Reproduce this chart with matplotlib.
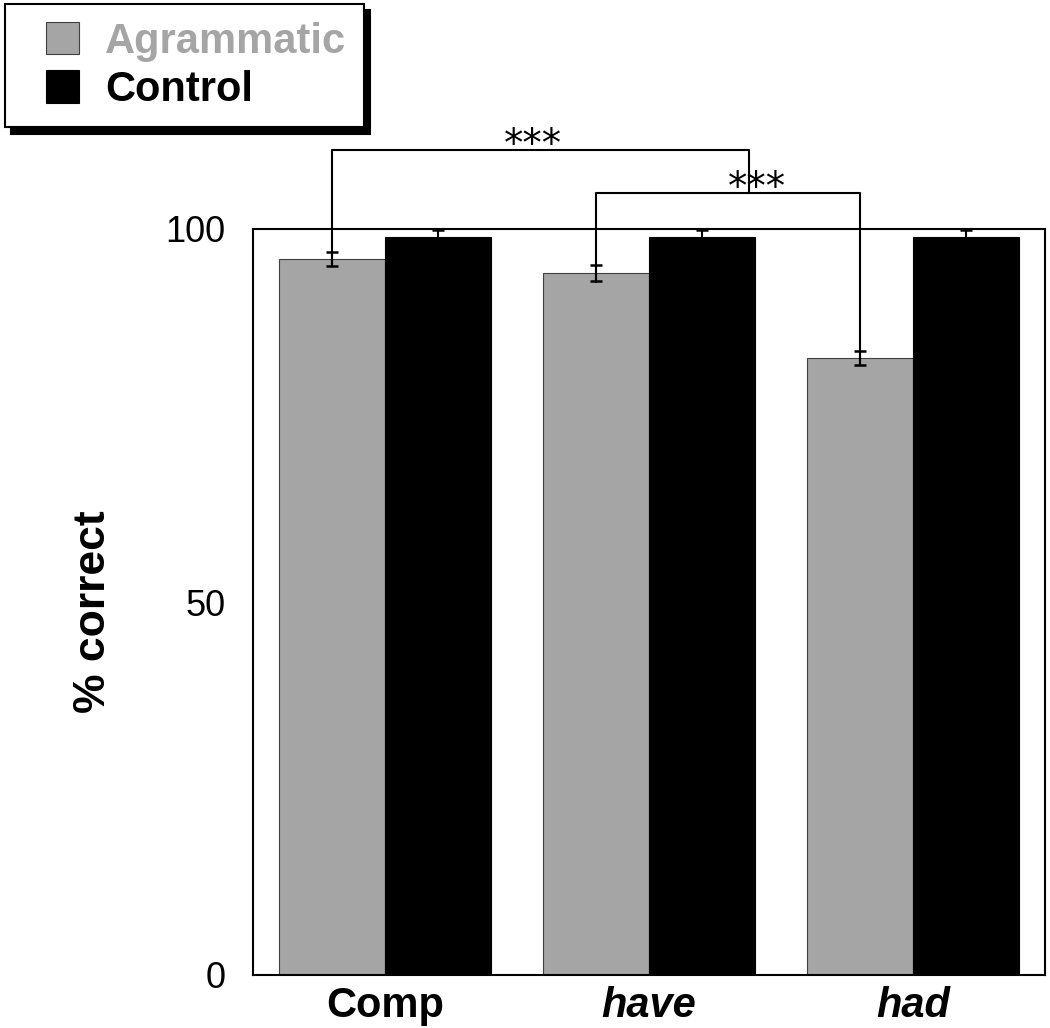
import numpy as np
import matplotlib
matplotlib.use("Agg")
import matplotlib.pyplot as plt
from matplotlib.patches import Rectangle
from matplotlib.container import BarContainer
from matplotlib.legend_handler import HandlerPatch, update_from_first_child

plt.rcParams['font.family'] = ['Liberation Sans', 'DejaVu Sans']

### Data ############################
categories = ['Comp', 'have', 'had']
agr = [96.0, 94.1, 82.7]
agr_err = [0.95, 1.1, 0.9]
ctrl = [98.9, 98.9, 98.9]
ctrl_err = [1.0, 1.0, 1.0]
# significance brackets: (x from, x to, bracket height, bottom left, bottom right)
brackets = [(-0.2, 1.38, 110.6, 95.1, 104.8),
            (0.8, 1.8, 104.8, 92.9, 81.8)]
star_pos = [(0.56, 111.3), (1.41, 105.5)]
#####################################

gray = '#a5a5a5'


def square_right(legend, orig_handle, xdescent, ydescent, width, height, fontsize):
    # small square pushed to the right end of the handle box
    return Rectangle((width - height - xdescent, -ydescent), height, height)


fig = plt.figure(figsize=(10.5, 10.28), dpi=100)
ax = fig.add_axes([253/1050, 1-975/1028, 792/1050, 746/1028])

x = np.arange(len(categories))
w = 0.4
ax.bar(x-w/2, agr, w, color=gray, edgecolor='#404040', lw=0.8, label='Agrammatic')
ax.bar(x+w/2, ctrl, w, color='black', edgecolor='black', lw=0.8, label='Control')
ax.errorbar(x-w/2, agr, yerr=agr_err, fmt='none', ecolor='black', elinewidth=1.5,
            capsize=4.5, capthick=1.8)
ax.errorbar(x+w/2, ctrl, yerr=ctrl_err, fmt='none', ecolor='black', elinewidth=1.5,
            capsize=4.5, capthick=1.8, clip_on=False)

for (x0, x1, h, b0, b1) in brackets:
    ax.plot([x0, x0, x1, x1], [b0, h, h, b1], color='black', lw=1.5, clip_on=False)
for (sx, sy) in star_pos:
    ax.text(sx, sy, '***', ha='center', va='center', fontsize=28,
            family='DejaVu Sans', clip_on=False)

ax.set_xlim(-0.5, 2.5)
ax.set_ylim(0, 100)
ax.set_yticks([0, 50, 100])
ax.set_xticks(x)
ax.set_xticklabels(categories, fontsize=30, fontweight='bold')
for lab in ax.get_xticklabels()[1:]:
    lab.set_fontstyle('italic')
ax.tick_params(axis='both', length=0)
ax.tick_params(axis='y', labelsize=26, pad=20)
ax.tick_params(axis='x', pad=8)
for s in ax.spines.values():
    s.set_linewidth(1.5)

ax.set_ylabel('% correct', fontsize=32, fontweight='bold')
ax.yaxis.set_label_coords(-0.175, 0.487)

leg = fig.legend(loc='upper left', bbox_to_anchor=(5/1050, 1-4/1028), borderaxespad=0,
                 prop={'weight': 'bold', 'size': 30},
                 handlelength=1.36, handleheight=0.83, handletextpad=0.62,
                 labelspacing=0.2, borderpad=0.42, fancybox=False,
                 handler_map={BarContainer: HandlerPatch(patch_func=square_right,
                                                         update_func=update_from_first_child)},
                 shadow={'ox': 4.5, 'oy': -4.5, 'color': 'black', 'alpha': 1},
                 framealpha=1, edgecolor='black')
leg.get_frame().set_linewidth(1.5)
leg.get_texts()[0].set_color(gray)

fig.savefig('out.png', dpi=100)
